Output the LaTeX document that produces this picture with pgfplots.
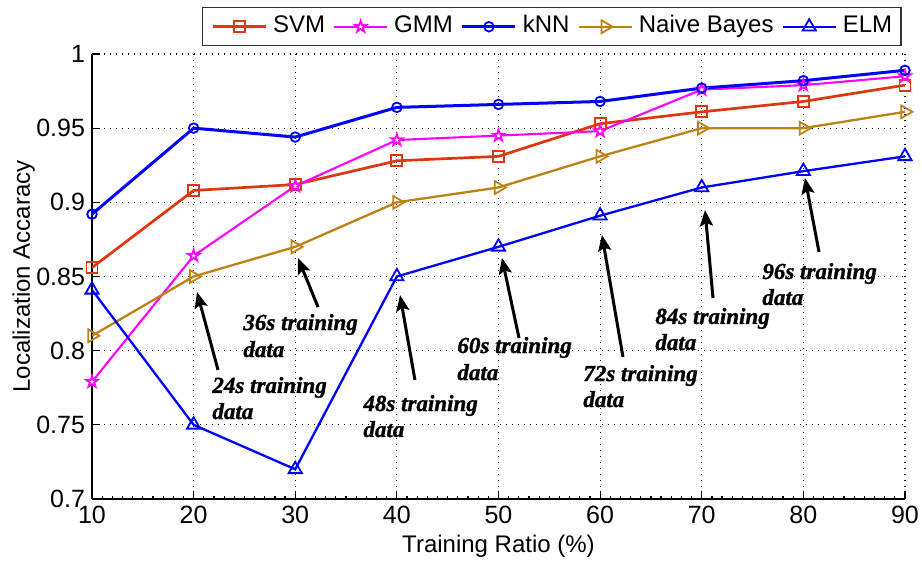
\documentclass[border=0pt]{standalone}
\usepackage{fontspec}
\setmainfont{Liberation Sans}
\newfontfamily\annfont[BoldItalicFeatures={FakeBold=1.2}]{Liberation Serif}
\usepackage{pgfplots}
\pgfplotsset{compat=1.18}
\usetikzlibrary{arrows.meta,plotmarks}

\definecolor{svmc}{RGB}{220,55,15}
\definecolor{gmmc}{RGB}{255,0,255}
\definecolor{knnc}{RGB}{0,0,255}
\definecolor{nbc}{RGB}{190,130,20}
\definecolor{elmc}{RGB}{0,0,255}

\pgfdeclareplotmark{pentagram}{%
  \pgfpathmoveto{\pgfpointpolar{90}{\pgfplotmarksize}}%
  \pgfpathlineto{\pgfpointpolar{126}{0.382\pgfplotmarksize}}%
  \pgfpathlineto{\pgfpointpolar{162}{\pgfplotmarksize}}%
  \pgfpathlineto{\pgfpointpolar{198}{0.382\pgfplotmarksize}}%
  \pgfpathlineto{\pgfpointpolar{234}{\pgfplotmarksize}}%
  \pgfpathlineto{\pgfpointpolar{270}{0.382\pgfplotmarksize}}%
  \pgfpathlineto{\pgfpointpolar{306}{\pgfplotmarksize}}%
  \pgfpathlineto{\pgfpointpolar{342}{0.382\pgfplotmarksize}}%
  \pgfpathlineto{\pgfpointpolar{18}{\pgfplotmarksize}}%
  \pgfpathlineto{\pgfpointpolar{54}{0.382\pgfplotmarksize}}%
  \pgfpathclose
  \pgfusepathqfillstroke}

\tikzset{
  ann/.style={font=\annfont\bfseries\itshape\fontsize{11.5}{13.5}\selectfont, anchor=base west, inner sep=0pt},
  arr/.style={black, line width=1.5pt, -{Stealth[length=8pt,width=6.5pt,inset=1.5pt]}}
}

\begin{document}
\begin{tikzpicture}
\begin{axis}[
  width=406.5pt, height=222.5pt, scale only axis,
  xmin=10, xmax=90, ymin=0.7, ymax=1,
  xtick={10,20,30,40,50,60,70,80,90},
  ytick={0.7,0.75,0.8,0.85,0.9,0.95,1},
  yticklabels={0.7,0.75,0.8,0.85,0.9,0.95,1},
  minor x tick num=9,
  axis lines=left,
  axis line style={-, line width=0.8pt, black},
  tick align=inside,
  major tick length=4pt, minor tick length=1.5pt,
  tick style={black, line width=0.6pt},
  grid=major,
  grid style={black, line width=0.6pt, dash pattern=on 0.6pt off 2.4pt},
  ticklabel style={font=\fontsize{12.5}{14}\selectfont},
  /pgf/number format/assume math mode=true,
  label style={font=\fontsize{12}{14}\selectfont},
  xlabel={Training Ratio (\%)},
  ylabel={Localization Accaracy},
  xlabel style={at={(axis description cs:0.5,-0.1213)}, anchor=base},
  ylabel style={at={(axis description cs:-0.0763,0.5)}, anchor=base},
  legend columns=-1,
  legend image code/.code={\draw[mark repeat=2,mark phase=2,#1] plot coordinates {(0pt,0pt) (13.25pt,0pt) (26.5pt,0pt)};},
  legend style={at={(axis description cs:0.9963,1.1056)}, anchor=north east,
    draw=black!80, line width=0.75pt, inner xsep=4.5pt, inner ysep=3.8pt,
    font=\fontsize{12}{14}\selectfont,
    nodes={inner sep=0pt, text height=8.8pt, text depth=2.6pt},
    column sep=3pt,
    /tikz/every even column/.append style={column sep=4pt}},
]
\addplot[svmc, line width=1.35pt, mark=square, mark size=2.75pt, mark options={solid, fill=white, line width=0.9pt}]
  coordinates {(10,0.856) (20,0.908) (30,0.912) (40,0.928) (50,0.931) (60,0.953) (70,0.961) (80,0.968) (90,0.979)};
\addlegendentry{SVM}
\addplot[gmmc, line width=1.05pt, mark=pentagram, mark size=3pt, mark options={solid, fill=white, line width=0.9pt}]
  coordinates {(10,0.779) (20,0.864) (30,0.911) (40,0.942) (50,0.945) (60,0.948) (70,0.976) (80,0.979) (90,0.985)};
\addlegendentry{GMM}
\addplot[knnc, line width=1.5pt, mark=o, mark size=2.4pt, mark options={solid, fill=white, line width=0.9pt}]
  coordinates {(10,0.892) (20,0.950) (30,0.944) (40,0.964) (50,0.966) (60,0.968) (70,0.977) (80,0.982) (90,0.989)};
\addlegendentry{kNN}
\addplot[nbc, line width=1.15pt, mark=triangle, mark size=3.7pt, mark options={solid, fill=white, line width=0.9pt, rotate=-90}]
  coordinates {(10,0.810) (20,0.850) (30,0.870) (40,0.900) (50,0.910) (60,0.931) (70,0.950) (80,0.950) (90,0.961)};
\addlegendentry{Naive Bayes}
\addplot[elmc, line width=1.15pt, mark=triangle, mark size=3.8pt, mark options={solid, fill=white, line width=0.9pt}]
  coordinates {(10,0.841) (20,0.750) (30,0.720) (40,0.850) (50,0.870) (60,0.891) (70,0.910) (80,0.921) (90,0.931)};
\addlegendentry{ELM}

% annotations
\draw[arr] (axis cs:22.40,0.7870) -- (axis cs:20.33,0.8396);
\node[ann] at (axis cs:21.81,0.7715) {24s training};
\node[ann] at (axis cs:21.81,0.7539) {data};

\draw[arr] (axis cs:32.24,0.8294) -- (axis cs:30.27,0.8625);
\node[ann] at (axis cs:24.86,0.8139) {36s training};
\node[ann] at (axis cs:24.86,0.7957) {data};

\draw[arr] (axis cs:41.78,0.7802) -- (axis cs:40.31,0.8375);
\node[ann] at (axis cs:36.67,0.7593) {48s training};
\node[ann] at (axis cs:36.67,0.7418) {data};

\draw[arr] (axis cs:52.02,0.8085) -- (axis cs:50.34,0.8625);
\node[ann] at (axis cs:45.92,0.7984) {60s training};
\node[ann] at (axis cs:45.92,0.7802) {data};

\draw[arr] (axis cs:62.25,0.7957) -- (axis cs:60.18,0.8780);
\node[ann] at (axis cs:58.31,0.7795) {72s training};
\node[ann] at (axis cs:58.31,0.7620) {data};

\draw[arr] (axis cs:71.11,0.8355) -- (axis cs:70.32,0.8948);
\node[ann] at (axis cs:65.40,0.8180) {84s training};
\node[ann] at (axis cs:65.40,0.8005) {data};

\draw[arr] (axis cs:81.54,0.8665) -- (axis cs:80.16,0.9164);
\node[ann] at (axis cs:75.93,0.8483) {96s training};
\node[ann] at (axis cs:75.93,0.8308) {data};
\end{axis}
\pgfresetboundingbox
\path (-46pt,-33pt) rectangle (415pt,249.5pt);
\end{tikzpicture}
\end{document}
